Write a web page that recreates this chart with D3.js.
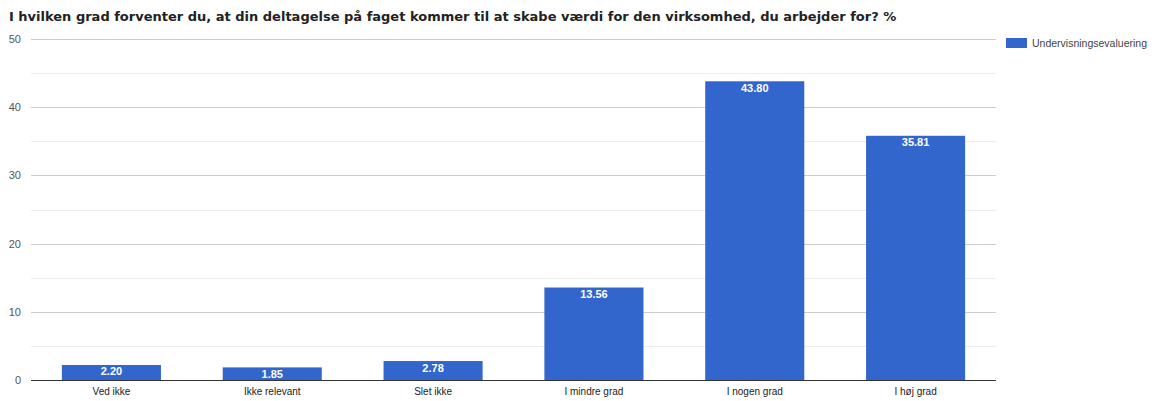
<!DOCTYPE html>
<html><head><meta charset="utf-8">
<script src="https://cdn.jsdelivr.net/npm/d3@7"></script>
<style>body{margin:0;background:#fff}svg{display:block}</style>
</head><body>
<svg id="c" width="1160" height="401"></svg>
<script>
const categories = ["Ved ikke","Ikke relevant","Slet ikke","I mindre grad","I nogen grad","I høj grad"];
const values = [2.20,1.85,2.78,13.56,43.80,35.81];
const yTicks = [0,10,20,30,40,50];
const minorTicks = [5,15,25,35,45];
const seriesName = "Undervisningsevaluering";
const title = "I hvilken grad forventer du, at din deltagelse på faget kommer til at skabe værdi for den virksomhed, du arbejder for? %";

const svg = d3.select("#c");
const L=31,R=996,T=39,B=380;
const x = d3.scaleBand().domain(categories).range([L,R]).paddingInner(0.384).paddingOuter(0.192);
const y = d3.scaleLinear().domain([0,50]).range([B,T]);

svg.append("text").attr("x",9).attr("y",21).attr("font-family","DejaVu Sans, Verdana, sans-serif")
  .attr("font-weight","bold").attr("font-size",13).attr("fill","#222").text(title);

svg.append("g").selectAll("line").data(minorTicks).join("line")
  .attr("x1",L).attr("x2",R).attr("y1",d=>Math.round(y(d))+0.5).attr("y2",d=>Math.round(y(d))+0.5)
  .attr("stroke","#ececec");
svg.append("g").selectAll("line").data(yTicks.filter(d=>d>0)).join("line")
  .attr("x1",L).attr("x2",R).attr("y1",d=>Math.round(y(d))+0.5).attr("y2",d=>Math.round(y(d))+0.5)
  .attr("stroke","#cccccc");

const yAxis = d3.axisLeft(y).tickValues(yTicks).tickSize(0).tickPadding(10);
const gy = svg.append("g").attr("transform",`translate(${L},0)`).call(yAxis);
gy.select(".domain").remove();
gy.selectAll("text").attr("font-family","Arial, Liberation Sans, sans-serif").attr("font-size",11).attr("fill","#555");

svg.append("g").selectAll("rect").data(values).join("rect")
  .attr("x",(d,i)=>x(categories[i])).attr("width",x.bandwidth())
  .attr("y",d=>y(d)).attr("height",d=>B-y(d)).attr("fill","#3366cc");

svg.append("g").selectAll("text").data(values).join("text")
  .attr("x",(d,i)=>x(categories[i])+x.bandwidth()/2).attr("y",d=>y(d)+10.5)
  .attr("text-anchor","middle").attr("font-family","Arial, Liberation Sans, sans-serif")
  .attr("font-weight","bold").attr("font-size",11).attr("fill","#fff").text(d=>d.toFixed(2));

const xAxis = d3.axisBottom(x).tickSize(0).tickPadding(8);
const gx = svg.append("g").attr("transform",`translate(0,${B})`).call(xAxis);
gx.select(".domain").attr("stroke","#333").attr("d",`M${L},0.5H${R}`);
gx.selectAll("text").attr("font-family","Arial, Liberation Sans, sans-serif").attr("font-size",10).attr("fill","#222");

svg.append("rect").attr("x",1006).attr("y",38).attr("width",21).attr("height",10).attr("fill","#3366cc");
svg.append("text").attr("x",1032).attr("y",47).attr("font-family","Arial, Liberation Sans, sans-serif")
  .attr("font-size",10.5).attr("fill","#444").text(seriesName);
</script>
</body></html>
